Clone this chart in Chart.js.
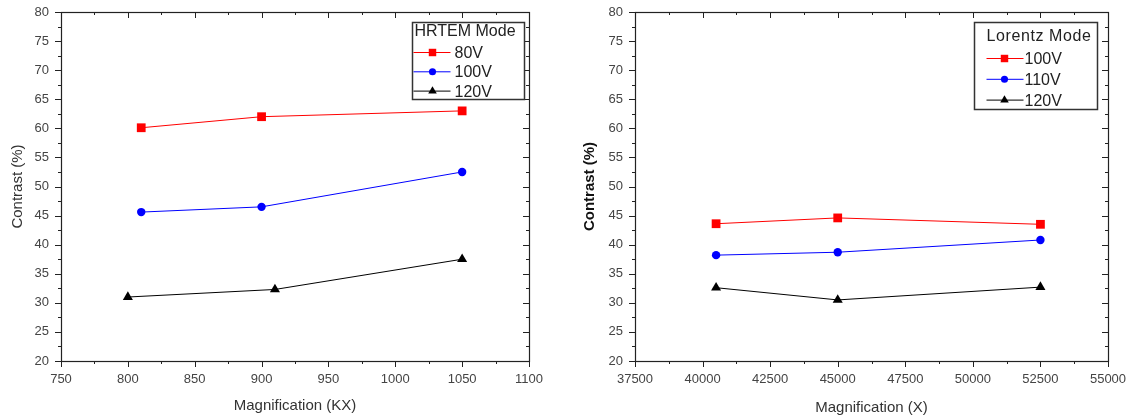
<!DOCTYPE html>
<html>
<head>
<meta charset="utf-8">
<script src="https://cdn.jsdelivr.net/npm/chart.js@4/dist/chart.umd.min.js"></script>
<style>
  html, body { margin: 0; padding: 0; background: #fff; }
  #wrap { position: relative; width: 1131px; height: 419px; }
  .pane { position: absolute; top: 0; height: 419px; }
  #paneLeft { left: 0; width: 566px; }
  #paneRight { left: 566px; width: 565px; }
</style>
</head>
<body>
<div id="wrap">
  <div class="pane" id="paneLeft"><canvas id="hrtemChart"></canvas></div>
  <div class="pane" id="paneRight"><canvas id="lorentzChart"></canvas></div>
</div>
<script>
// HRTEM mode, magnification in KX
const hrtemMag80 = [810, 900, 1050];
const hrtem80 = [60.1, 62.0, 63.0];
const hrtemMag100 = [810, 900, 1050];
const hrtem100 = [45.6, 46.5, 52.5];
const hrtemMag120 = [800, 910, 1050];
const hrtem120 = [31.0, 32.3, 37.5];

// Lorentz mode, magnification in X
const lorentzMag = [40500, 45000, 52500];
const lorentz100 = [43.6, 44.6, 43.5];
const lorentz110 = [38.2, 38.7, 40.8];
const lorentz120 = [32.6, 30.5, 32.7];

const FONT = "'Liberation Sans', Arial, sans-serif";

function pts(xs, ys) {
  return xs.map((x, i) => ({ x, y: ys[i] }));
}

function series(label, xs, ys, color, style, radius) {
  return {
    label,
    data: pts(xs, ys),
    borderColor: color,
    backgroundColor: color,
    borderWidth: 1,
    pointStyle: style,
    pointRadius: radius,
    pointBorderWidth: 0,
    pointBackgroundColor: color,
    tension: 0,
  };
}

// frame box plus Origin-style ticks (out on left/bottom, in on top/right)
const frameTicks = {
  id: 'frameTicks',
  afterDatasetsDraw(chart, args, opts) {
    const { ctx, chartArea: a, scales: { x, y } } = chart;
    ctx.save();
    ctx.strokeStyle = '#222';
    ctx.lineWidth = 1.2;
    ctx.strokeRect(Math.round(a.left) + 0.5, Math.round(a.top) + 0.5,
      Math.round(a.right - a.left), Math.round(a.bottom - a.top));
    ctx.lineWidth = 1;
    ctx.beginPath();
    for (let v = x.min; v <= x.max + 1e-6; v += opts.xMinor) {
      const major = Math.abs(v / opts.xMajor - Math.round(v / opts.xMajor)) < 1e-6;
      const len = major ? 6 : 3;
      const px = Math.round(x.getPixelForValue(v)) + 0.5;
      ctx.moveTo(px, a.bottom); ctx.lineTo(px, a.bottom + len);
      ctx.moveTo(px, a.top); ctx.lineTo(px, a.top + len);
    }
    for (let v = y.min; v <= y.max + 1e-6; v += opts.yMinor) {
      const major = Math.abs(v / opts.yMajor - Math.round(v / opts.yMajor)) < 1e-6;
      const len = major ? 6 : 3;
      const py = Math.round(y.getPixelForValue(v)) + 0.5;
      ctx.moveTo(a.left, py); ctx.lineTo(a.left - len, py);
      ctx.moveTo(a.right, py); ctx.lineTo(a.right - len, py);
    }
    ctx.stroke();

    // legend box
    const lg = opts.legend;
    const bx = Math.round(a.right - lg.rightGap - lg.width) + 0.5;
    const by = Math.round(a.top + lg.topGap) + 0.5;
    ctx.fillStyle = '#fff';
    ctx.fillRect(bx, by, lg.width, lg.height);
    ctx.strokeStyle = '#333';
    ctx.lineWidth = 1.5;
    ctx.strokeRect(bx, by, lg.width, lg.height);
    ctx.font = lg.font;
    ctx.textBaseline = 'middle';
    ctx.fillStyle = '#222';
    ctx.letterSpacing = lg.titleSpacing;
    ctx.fillText(lg.title, bx + lg.titleX, by + lg.titleY);
    ctx.letterSpacing = '0px';
    chart.data.datasets.forEach((ds, i) => {
      const ry = by + lg.rowY + i * lg.rowGap;
      ctx.strokeStyle = ds.borderColor;
      ctx.lineWidth = 1;
      ctx.beginPath();
      ctx.moveTo(bx + lg.lineX0, ry);
      ctx.lineTo(bx + lg.lineX1, ry);
      ctx.stroke();
      ctx.fillStyle = ds.backgroundColor;
      Chart.helpers.drawPoint(ctx, { pointStyle: ds.pointStyle, radius: ds.pointRadius * 0.85, rotation: 0, borderWidth: 0 },
        bx + lg.markX, ry);
      ctx.fillStyle = '#222';
      ctx.fillText(ds.label, bx + lg.textX, ry + 1);
    });
    ctx.restore();
  }
};

function makeChart(canvasId, datasets, cfg) {
  return new Chart(document.getElementById(canvasId), {
    type: 'line',
    data: { datasets },
    plugins: [frameTicks],
    options: {
      responsive: true,
      maintainAspectRatio: false,
      animation: false,
      layout: { padding: { top: 12, right: cfg.padRight, left: 0, bottom: 0 } },
      plugins: {
        legend: { display: false },
        tooltip: { enabled: false },
        frameTicks: {
          xMajor: cfg.xStep, xMinor: cfg.xStep / 2,
          yMajor: 5, yMinor: 2.5,
          legend: cfg.legend,
        },
      },
      scales: {
        x: {
          type: 'linear',
          min: cfg.xMin, max: cfg.xMax,
          grid: { display: false },
          border: { display: false },
          afterFit(s) { s.height = 58; },
          ticks: {
            stepSize: cfg.xStep,
            padding: 3,
            color: '#444',
            font: { family: FONT, size: 13 },
            maxRotation: 0,
            autoSkip: false,
            callback: v => String(v),
          },
          title: {
            display: true,
            text: cfg.xTitle,
            color: '#333',
            font: { family: FONT, size: 15 },
            padding: { top: 0, bottom: cfg.xTitlePad },
          },
        },
        y: {
          min: 20, max: 80,
          grid: { display: false },
          border: { display: false },
          afterFit(s) { s.width = cfg.yWidth; },
          ticks: {
            stepSize: 5,
            padding: 4,
            color: '#444',
            font: { family: FONT, size: 13 },
          },
          title: {
            display: true,
            text: 'Contrast (%)',
            color: cfg.yTitleColor,
            font: { family: FONT, size: 15, weight: cfg.yTitleWeight },
            padding: { top: cfg.yTitlePad, bottom: 0 },
          },
        },
      },
    },
  });
}

makeChart('hrtemChart', [
  series('80V', hrtemMag80, hrtem80, '#ff0000', 'rect', 6.2),
  series('100V', hrtemMag100, hrtem100, '#0000ff', 'circle', 4.2),
  series('120V', hrtemMag120, hrtem120, '#000000', 'triangle', 5.8),
], {
  xMin: 750, xMax: 1100, xStep: 50,
  xTitle: 'Magnification (KX)', xTitlePad: 4,
  yWidth: 61, yTitlePad: 9, yTitleColor: '#333', yTitleWeight: 'normal',
  padRight: 37,
  legend: {
    title: 'HRTEM Mode', font: "16px " + FONT, titleSpacing: '0px',
    width: 112, height: 77, rightGap: 5, topGap: 10,
    titleX: 2, titleY: 9, rowY: 30, rowGap: 19.3,
    lineX0: 1, lineX1: 38, markX: 20, textX: 42,
  },
});

makeChart('lorentzChart', [
  series('100V', lorentzMag, lorentz100, '#ff0000', 'rect', 6.2),
  series('110V', lorentzMag, lorentz110, '#0000ff', 'circle', 4.2),
  series('120V', lorentzMag, lorentz120, '#000000', 'triangle', 5.8),
], {
  xMin: 37500, xMax: 55000, xStep: 2500,
  xTitle: 'Magnification (X)', xTitlePad: 2,
  yWidth: 69, yTitlePad: 15, yTitleColor: '#111', yTitleWeight: 'bold',
  padRight: 23,
  legend: {
    title: 'Lorentz Mode', font: "16px " + FONT, titleSpacing: '0.6px',
    width: 123, height: 87, rightGap: 11, topGap: 10,
    titleX: 12, titleY: 14, rowY: 36, rowGap: 20.8,
    lineX0: 12, lineX1: 49, markX: 30, textX: 50,
  },
});
</script>
</body>
</html>
